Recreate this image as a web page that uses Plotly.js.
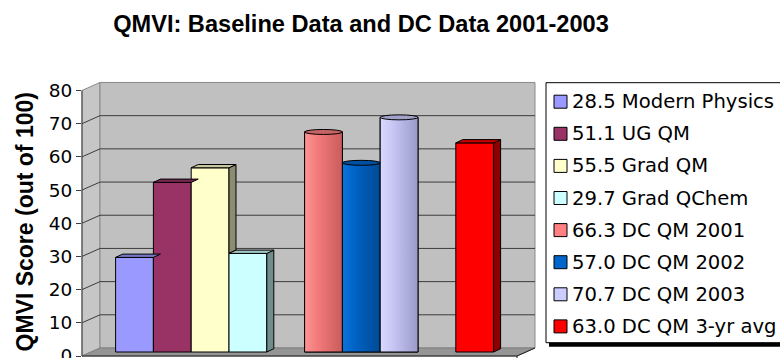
<!DOCTYPE html>
<html><head><meta charset="utf-8">
<script src="https://cdn.plot.ly/plotly-3.0.1.min.js"></script>
<style>html,body{margin:0;padding:0;background:#fff}#chart{width:780px;height:358px}</style>
</head><body><div id="chart"></div>
<script>
// ---------------- data ----------------
const seriesNames = ['Modern Physics','UG QM','Grad QM','Grad QChem','DC QM 2001','DC QM 2002','DC QM 2003','DC QM 3-yr avg'];
const seriesValues = [28.5, 51.1, 55.5, 29.7, 66.3, 57.0, 70.7, 63.0];
const seriesGroups = [0, 0, 0, 0, 1, 1, 1, 2];
const yTickValues = [0, 10, 20, 30, 40, 50, 60, 70, 80];
const chartTitle = 'QMVI: Baseline Data and DC Data 2001-2003';
const yAxisTitle = 'QMVI Score (out of 100)';

// ---------------- styles ----------------
const seriesColors = ['#9999ff','#993366','#ffffcc','#ccffff','#ff8080','#0066cc','#ccccff','#ff0000'];
const seriesForms  = ['box','box','box','box','cylinder','cylinder','cylinder','box'];
const cylGradients = {
  4: ['#ff9494','#f27a7a','#c85c5c'],
  5: ['#0a74dc','#0062c4','#004a94'],
  6: ['#d8d8ff','#c6c6f4','#9a9ac8']
};

// ---------------- geometry (pixels) ----------------
const L = 82, R = 535, T = 80, B = 356;
const PW = R - L, PH = B - T;
const SLOT = 37.8, S = 3.319;   // px per slot, px per score unit
const DX = 9, DY = 4;           // half-depth offset of the 3D box
const BDX = 7, BDY = 3.3;       // bar depth
const firstCenterPx = 134.5;
const x0 = -(firstCenterPx - L) / SLOT;
const xRange = [x0, x0 + PW / SLOT];
const yRange = [-DY / S, (B - DY - T) / S];
const y2Range = [0, PH / S];

function shade(hex, f) {
  const n = parseInt(hex.slice(1), 16);
  const r = Math.round(((n >> 16) & 255) * f), g = Math.round(((n >> 8) & 255) * f), b = Math.round((n & 255) * f);
  return 'rgb(' + r + ',' + g + ',' + b + ')';
}
const px2pX = p => (p - L) / PW;
const px2pY = p => (B - p) / PH;
const yBar = v => B - DY - v * S;
const yBack = v => yBar(v) - DY;
const yFront = v => yBar(v) + DY;
function ppath(pts, close) {
  return pts.map((p, i) => (i ? 'L' : 'M') + px2pX(p[0]).toFixed(5) + ',' + px2pY(p[1]).toFixed(5)).join(' ') + (close ? ' Z' : '');
}
function dpath(pts) {
  return pts.map((p, i) => (i ? 'L' : 'M') + p[0].toFixed(5) + ',' + p[1].toFixed(5)).join(' ') + ' Z';
}

const vMax = yTickValues[yTickValues.length - 1];
const xFL = L, xBL = L + 2 * DX, xBR = R, xFR = R - 2 * DX;
const shapes = [];
// walls and floor
shapes.push({type:'path', xref:'paper', yref:'paper', layer:'below', path: ppath([[xFL,yFront(0)],[xBL,yBack(0)],[xBL,yBack(vMax)],[xFL,yFront(vMax)]], true), fillcolor:'#c6c6c6', line:{color:'#8a8a8a', width:1}});
shapes.push({type:'path', xref:'paper', yref:'paper', layer:'below', path: ppath([[xBL,yBack(vMax)],[xBR,yBack(vMax)],[xBR,yBack(0)],[xBL,yBack(0)]], true), fillcolor:'#c0c0c0', line:{color:'#8a8a8a', width:1}});
shapes.push({type:'path', xref:'paper', yref:'paper', layer:'below', path: ppath([[xFL,yFront(0)],[xFR,yFront(0)],[xBR,yBack(0)],[xBL,yBack(0)]], true), fillcolor:'#959595', line:{color:'#808080', width:1}});
// gridlines
yTickValues.forEach(v => {
  if (v > 0 && v < vMax) {
    shapes.push({type:'path', xref:'paper', yref:'paper', layer:'below', path: ppath([[xFL,yFront(v)],[xBL,yBack(v)],[xBR,yBack(v)]], false), line:{color:'#3c3c3c', width:1}});
  }
});
// front axis lines
shapes.push({type:'line', xref:'paper', yref:'paper', layer:'below', x0:px2pX(xFL), x1:px2pX(xFL), y0:px2pY(yFront(0)), y1:px2pY(yFront(vMax)), line:{color:'#404040', width:1}});
shapes.push({type:'path', xref:'paper', yref:'paper', layer:'below', path: ppath([[xFL,yFront(0)],[xFR,yFront(0)],[xBR,yBack(0)]], false), line:{color:'#202020', width:1}});
shapes.push({type:'line', xref:'paper', yref:'paper', layer:'below', x0:px2pX(xFR), x1:px2pX(xFR), y0:px2pY(yFront(0)), y1:px2pY(yFront(0)+5), line:{color:'#202020', width:1}});

// bars
const traces = [];
const slots = seriesValues.map((v, i) => i + seriesGroups[i]);
const bdx = BDX / SLOT, bdy = BDY / S;
seriesValues.forEach((v, i) => {
  const x = slots[i], c = seriesColors[i];
  traces.push({type:'bar', x:[x], y:[v], width:1, marker:{color:c, line:{color:'#000', width:1}}, showlegend:false, hoverinfo:'skip'});
  if (seriesForms[i] === 'cylinder') {
    const g = cylGradients[i];
    traces.push({type:'scatter', mode:'lines', x:[x-0.5, x+0.5, x+0.5, x-0.5, x-0.5], y:[0, 0, v, v, 0], fill:'toself',
      fillgradient:{type:'horizontal', colorscale:[[0, g[0]], [0.35, g[1]], [1, g[2]]]},
      line:{color:'#000', width:1}, showlegend:false, hoverinfo:'skip'});
    shapes.push({type:'circle', xref:'x', yref:'y', layer:'above', x0:x-0.5, x1:x+0.5, y0:v-0.75, y1:v+0.75, fillcolor:shade(g[1], 0.82), line:{color:'#000', width:1}});
  } else {
    const nb = (i + 1 < seriesValues.length && slots[i+1] === x + 1) ? seriesValues[i+1] : 0;
    if (nb < v) {
      shapes.push({type:'path', xref:'x', yref:'y', layer:'above', path: dpath([[x+0.5, nb], [x+0.5+bdx, nb+bdy], [x+0.5+bdx, v+bdy], [x+0.5, v]]), fillcolor:shade(c, 0.55), line:{color:'#000', width:1}});
    }
    shapes.push({type:'path', xref:'x', yref:'y', layer:'above', path: dpath([[x-0.5, v], [x-0.5+bdx, v+bdy], [x+0.5+bdx, v+bdy], [x+0.5, v]]), fillcolor:shade(c, 0.78), line:{color:'#000', width:1}});
  }
});
traces.push({type:'scatter', x:[], y:[], yaxis:'y2', showlegend:false, hoverinfo:'skip'});

// legend (manual, Excel style)
const annotations = [];
const lgL = 546, lgT = 82.7, lgB = 342.7, lgR = 783;
shapes.push({type:'rect', xref:'paper', yref:'paper', layer:'above', x0:px2pX(lgL+3), x1:px2pX(lgR+3), y0:px2pY(lgB+4), y1:px2pY(lgT+4), fillcolor:'#000', line:{width:0}});
shapes.push({type:'rect', xref:'paper', yref:'paper', layer:'above', x0:px2pX(lgL), x1:px2pX(lgR), y0:px2pY(lgB), y1:px2pY(lgT), fillcolor:'#fff', line:{color:'#000', width:1}});
seriesNames.forEach((n, k) => {
  const cy = 101.7 + 32.1 * k;
  shapes.push({type:'rect', xref:'paper', yref:'paper', layer:'above', x0:px2pX(554), x1:px2pX(567), y0:px2pY(cy+6.5), y1:px2pY(cy-6.5), fillcolor:seriesColors[k], line:{color:'#000', width:1}});
  annotations.push({xref:'paper', yref:'paper', x:px2pX(570), y:px2pY(cy), xanchor:'left', yanchor:'middle', showarrow:false,
    text: seriesValues[k].toFixed(1) + ' ' + n, font:{family:'DejaVu Sans', size:19.6, color:'#000'}});
});
annotations.push({xref:'paper', yref:'paper', x:px2pX(24.5), y:px2pY(222), xanchor:'center', yanchor:'middle', showarrow:false, textangle:-90,
  text:'<b>' + yAxisTitle + '</b>', font:{family:'Liberation Sans, Arial', size:23, color:'#000'}});

const layout = {
  width:780, height:358,
  margin:{l:L, r:780-R, t:T, b:358-B, pad:0},
  paper_bgcolor:'#fff', plot_bgcolor:'rgba(0,0,0,0)',
  barmode:'overlay', showlegend:false,
  title:{text:'<b>' + chartTitle + '</b>', font:{family:'Liberation Sans, Arial', size:23.6, color:'#000'},
    xref:'container', yref:'container', x:361/780, y:1-23.5/358, xanchor:'center', yanchor:'middle'},
  xaxis:{range:xRange, visible:false, fixedrange:true},
  yaxis:{range:yRange, visible:false, fixedrange:true},
  yaxis2:{range:y2Range, overlaying:'y', side:'left', anchor:'x', tickvals:yTickValues, ticktext:yTickValues.map(String),
    ticks:'outside', ticklen:5, tickcolor:'#404040', tickwidth:1, showgrid:false, zeroline:false, showline:false,
    ticklabeloverflow:'allow', tickfont:{family:'DejaVu Sans', size:18.5, color:'#000'}, automargin:false},
  shapes:shapes, annotations:annotations
};
Plotly.newPlot('chart', traces, layout, {staticPlot:true, displayModeBar:false});
</script></body></html>
